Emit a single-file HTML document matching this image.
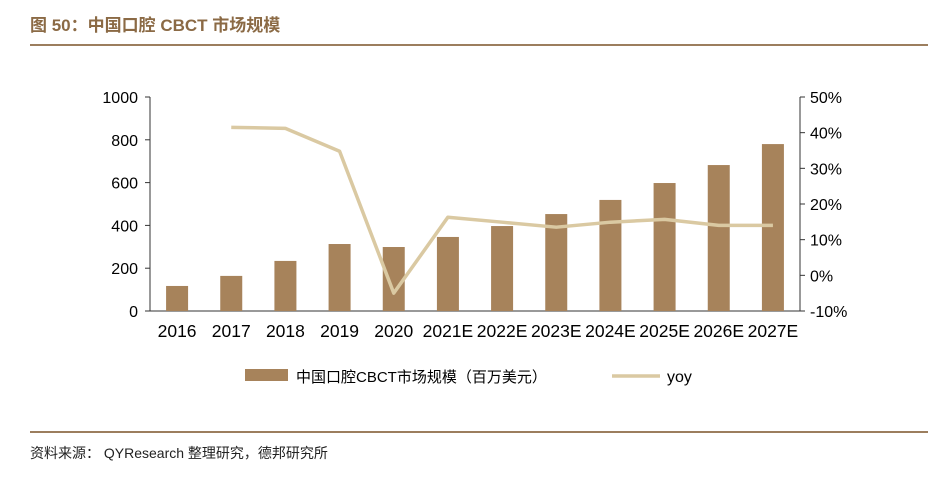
<!DOCTYPE html>
<html><head><meta charset="utf-8"><style>
body{margin:0;background:#fff;width:930px;height:496px;overflow:hidden;font-family:"Liberation Sans","Noto Sans CJK SC",sans-serif}
</style></head><body>
<svg width="930" height="496" xmlns="http://www.w3.org/2000/svg">
<text x="30" y="31" font-size="17" font-weight="bold" fill="#8B6A45" font-family="Liberation Sans,Noto Sans CJK SC,sans-serif">图 50：中国口腔 CBCT 市场规模</text>
<rect x="30" y="44" width="898" height="2" fill="#9C7E5E"/>
<rect x="30" y="431" width="898" height="2" fill="#9C7E5E"/>
<text x="30" y="458" font-size="14" fill="#222" font-family="Liberation Sans,Noto Sans CJK SC,sans-serif">资料来源：  QYResearch 整理研究，德邦研究所</text>
<g id="plot"></g>
</svg>
<script>
const categories=["2016","2017","2018","2019","2020","2021E","2022E","2023E","2024E","2025E","2026E","2027E"];
const marketSize=[117,164,234,313,299,346,397,453,519,598,682,780];
const yoy=[null,41.5,41.2,34.8,-5,16.3,14.9,13.5,14.9,15.7,14,14];
const leftTicks=[0,200,400,600,800,1000];
const rightTicks=[-10,0,10,20,30,40,50];
const NS="http://www.w3.org/2000/svg";
const g=document.getElementById("plot");
const X0=150,X1=800,Y0=311,Y1=97;
const bw=(X1-X0)/categories.length;
const xc=i=>X0+bw*(i+0.5);
const yL=v=>Y0-(v/1000)*(Y0-Y1);
const yR=v=>Y0-((v+10)/60)*(Y0-Y1);
function el(t,a){const e=document.createElementNS(NS,t);for(const k in a)e.setAttribute(k,a[k]);g.appendChild(e);return e;}
let e;
e=el("line",{x1:X0,y1:Y1,x2:X0,y2:Y0,stroke:"#333"});


e=el("line",{x1:X1,y1:Y1,x2:X1,y2:Y0,stroke:"#333"});


e=el("line",{x1:X0,y1:Y0,x2:X1,y2:Y0,stroke:"#333"});


leftTicks.forEach(v=>{
 el("line",{x1:X0-5,y1:yL(v),x2:X0,y2:yL(v),stroke:"#333"});
 e=el("text",{x:X0-12,y:yL(v)+6,"font-size":16,"text-anchor":"end",fill:"#000"});e.textContent=v;
 
 
});
rightTicks.forEach(v=>{
 el("line",{x1:X1,y1:yR(v),x2:X1+5,y2:yR(v),stroke:"#333"});
 e=el("text",{x:X1+10,y:yR(v)+6,"font-size":16,fill:"#000"});e.textContent=v+"%";
 
 
});
categories.forEach((c,i)=>{
 e=el("rect",{x:xc(i)-11,y:yL(marketSize[i]),width:22,height:Y0-yL(marketSize[i]),fill:"#A7835B"});
 
 
 e=el("text",{x:xc(i),y:337,"font-size":17.5,"text-anchor":"middle",fill:"#000"});e.textContent=c;
 
 
});
let pts=[];yoy.forEach((v,i)=>{if(v!==null)pts.push(xc(i)+","+yR(v));});
e=el("polyline",{points:pts.join(" "),fill:"none",stroke:"#DAC9A2","stroke-width":3.5,"stroke-linejoin":"round"});


e=el("rect",{x:245,y:369,width:43,height:12,fill:"#A7835B"});


e=el("text",{x:296,y:382,"font-size":15,fill:"#000"});e.textContent="中国口腔CBCT市场规模（百万美元）";


e=el("line",{x1:612,y1:376,x2:660,y2:376,stroke:"#DAC9A2","stroke-width":3.5});


e=el("text",{x:667,y:382,"font-size":16,fill:"#000"});e.textContent="yoy";


</script>
</body></html>
